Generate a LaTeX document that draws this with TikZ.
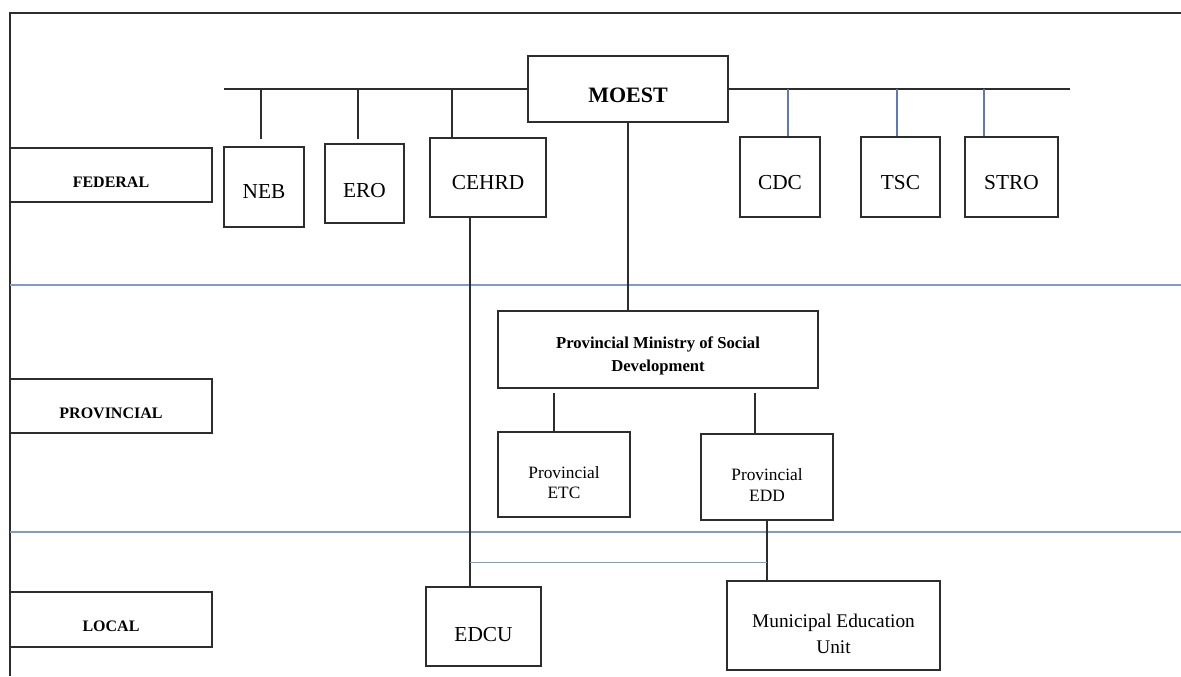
\documentclass[tikz,border=0pt]{standalone}
\usepackage{fontspec}
\setmainfont{Liberation Serif}
\usepackage{tikz}
\usetikzlibrary{calc}
\definecolor{framegray}{RGB}{45,45,45}
\definecolor{sepblue}{RGB}{125,155,205}
\definecolor{dropblue}{RGB}{95,120,185}
\newdimen\px
\px=0.75pt

\begin{document}
\begin{tikzpicture}[x=0.75pt,y=-0.75pt,
    tier/.style={draw=framegray,line width=1pt,minimum width=202\px,text height=39\px,text depth=15\px,font=\fontsize{12}{14}\selectfont\bfseries},
    office/.style={draw=framegray,line width=1pt,align=center},
    sepline/.style={draw=sepblue,line width=1.2pt},
    conn/.style={draw=framegray,line width=1.1pt}]
            \tikzstyle{every node}+=[inner sep=0pt]
            \useasboundingbox (0,0) rectangle (1181,676);
            \draw [framegray,line width=1.5pt] (1181,13) -- (10,13) -- (10,676);
            \coordinate (sepAl) at (10,285);
            \coordinate (sepAr) at (1181,285);
            \coordinate (sepBl) at (10,532);
            \coordinate (sepBr) at (1181,532);
            \draw [sepline] (sepAl) -- (sepAr);
            \draw [sepline] (sepBl) -- (sepBr);
            \node [tier] (federal) at (111,175) {FEDERAL};
            \node [tier] (provincial) at (111,406) {PROVINCIAL};
            \node [tier,text depth=16\px] (local) at (111,619.5) {LOCAL};
            \node [office,minimum width=200\px,text height=46\px,text depth=20\px,font=\fontsize{16.5}{19}\selectfont\bfseries] (moest) at (628,89) {MOEST};
            \node [office,minimum width=80\px,text height=51\px,text depth=29\px,font=\fontsize{16}{19}\selectfont] (neb) at (264,187) {NEB};
            \node [office,minimum width=79\px,text height=53\px,text depth=26\px,font=\fontsize{16}{19}\selectfont] (ero) at (364.5,183.5) {ERO};
            \node [office,minimum width=116\px,text height=51\px,text depth=28\px,font=\fontsize{16}{19}\selectfont] (cehrd) at (488,177.5) {CEHRD};
            \node [office,minimum width=80\px,text height=52\px,text depth=28\px,font=\fontsize{16}{19}\selectfont] (cdc) at (780,177) {CDC};
            \node [office,minimum width=79\px,text height=52\px,text depth=28\px,font=\fontsize{16}{19}\selectfont] (tsc) at (900.5,177) {TSC};
            \node [office,minimum width=93\px,text height=52\px,text depth=28\px,font=\fontsize{16}{19}\selectfont] (stro) at (1011.5,177) {STRO};
            \node [office,minimum width=320\px,text height=60\px,text depth=17\px,font=\fontsize{12.5}{17}\selectfont\bfseries] (pmsd) at (658,349.5) {Provincial Ministry of Social\\Development};
            \node [office,minimum width=132\px,text height=66\px,text depth=19\px,font=\fontsize{13}{15}\selectfont] (etc) at (564,474.5) {Provincial\\ETC};
            \node [office,minimum width=132\px,text height=67\px,text depth=19\px,font=\fontsize{13}{15.5}\selectfont] (edd) at (767,477) {Provincial\\EDD};
            \node [office,minimum width=115\px,text height=54\px,text depth=25\px,font=\fontsize{16}{19}\selectfont] (edcu) at (483.5,626.5) {EDCU};
            \node [office,minimum width=213\px,text height=72\px,text depth=17\px,font=\fontsize{14.5}{19.5}\selectfont] (meu) at (833.5,625.5) {Municipal Education\\Unit};
            \coordinate (busL) at (224,89);
            \coordinate (busR) at (1070,89);
            \draw [conn] (busL) -- (moest.west);
            \draw [conn] (moest.east) -- (busR);
            \foreach \b/\d/\g in {neb/-3/7,ero/-6.5/4,cehrd/-36/0}
              \draw [conn,shorten <=\g\px] let \p1=($(\b.north)+(\d,0)$), \p2=(busL) in (\x1,\y1) -- (\x1,\y2);
            \foreach \b/\d in {cdc/8,tsc/-3.5,stro/-27.5}
              \draw [dropblue,line width=0.9pt] let \p1=($(\b.north)+(\d,0)$), \p2=(busR) in (\x1,\y1) -- (\x1,\y2);
            \draw [conn] (moest.south) -- (moest.south |- pmsd.north);
            \coordinate (etctop) at ($(etc.north)+(-10,0)$);
            \coordinate (eddtop) at ($(edd.north)+(-12,0)$);
            \draw [conn,shorten >=4\px] (etctop) -- (etctop |- pmsd.south);
            \draw [conn,shorten >=4\px] (eddtop) -- (eddtop |- pmsd.south);
            \coordinate (cehrdfoot) at ($(cehrd.south)+(-18,0)$);
            \draw [conn] (cehrdfoot) -- (cehrdfoot |- edcu.north);
            \draw [conn,line width=0.8pt] (edd.south) -- (edd.south |- meu.north);
            \coordinate (link) at ($(edd.south)+(0,42)$);
            \draw [sepline] (link -| cehrdfoot) -- (link);
\end{tikzpicture}
\end{document}
